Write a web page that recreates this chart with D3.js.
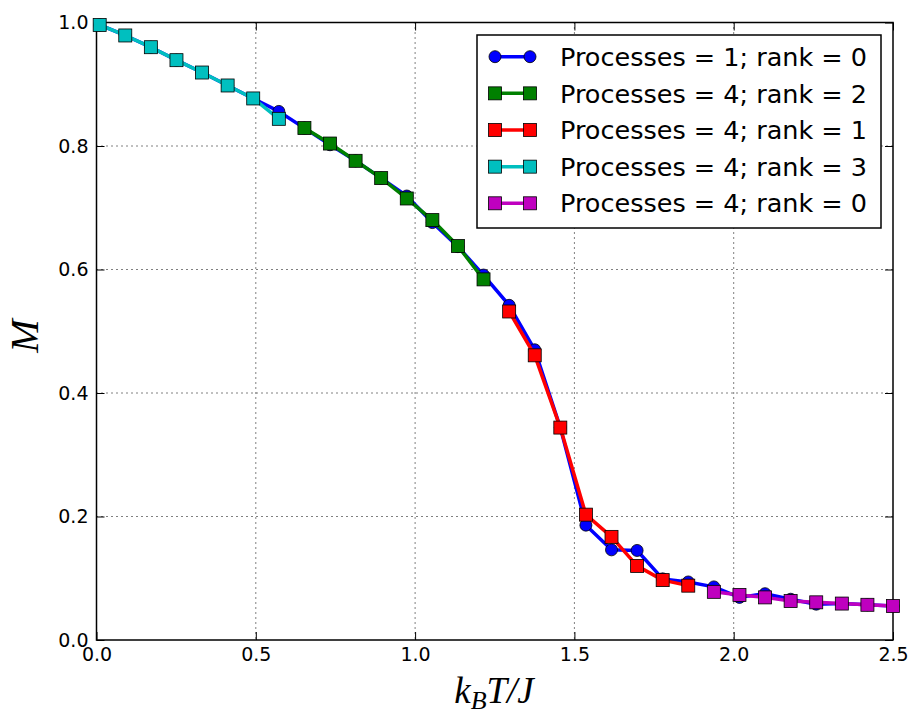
<!DOCTYPE html>
<html><head><meta charset="utf-8">
<script src="https://cdn.jsdelivr.net/npm/d3@7"></script>
<style>body{margin:0;background:#fff}</style>
</head><body>
<svg id="c" width="910" height="715"></svg>
<script>
// temperatures: 32 evenly spaced points 0.01..2.5
const temps = [0.0100,0.0903,0.1706,0.2510,0.3313,0.4116,0.4919,0.5723,0.6526,0.7329,0.8132,0.8935,0.9739,1.0542,1.1345,1.2148,1.2952,1.3755,1.4558,1.5361,1.6165,1.6968,1.7771,1.8574,1.9377,2.0181,2.0984,2.1787,2.2590,2.3394,2.4197,2.5000];
const mSerial = [0.996,0.979,0.960,0.939,0.919,0.898,0.877,0.856,0.829,0.802,0.776,0.748,0.719,0.676,0.637,0.591,0.542,0.470,0.344,0.186,0.146,0.145,0.099,0.094,0.086,0.069,0.075,0.066,0.058,0.059,0.057,0.055];
const mRank3 = [0.996,0.979,0.960,0.939,0.919,0.898,0.877,0.844];
const mRank2 = [0.829,0.804,0.776,0.748,0.715,0.680,0.638,0.584];
const mRank1 = [0.532,0.461,0.344,0.203,0.167,0.120,0.097,0.088];
const mRank0 = [0.078,0.073,0.069,0.063,0.061,0.059,0.057,0.055];
const seriesLabels = ["Processes = 1; rank = 0","Processes = 4; rank = 2","Processes = 4; rank = 1","Processes = 4; rank = 3","Processes = 4; rank = 0"];
const xTicks = [0.0,0.5,1.0,1.5,2.0,2.5];
const yTicks = [0.0,0.2,0.4,0.6,0.8,1.0];

const series = [
  {label: seriesLabels[0], color:"#0000ff", marker:"circle", x: temps, y: mSerial},
  {label: seriesLabels[1], color:"#008000", marker:"square", x: temps.slice(8,16), y: mRank2},
  {label: seriesLabels[2], color:"#ff0000", marker:"square", x: temps.slice(16,24), y: mRank1},
  {label: seriesLabels[3], color:"#00bfbf", marker:"square", x: temps.slice(0,8), y: mRank3},
  {label: seriesLabels[4], color:"#bf00bf", marker:"square", x: temps.slice(24,32), y: mRank0}
];

const svg = d3.select("#c");
const L=96.5, R=893, T=22.5, B=640;
const x = d3.scaleLinear().domain([0,2.5]).range([L,R]);
const y = d3.scaleLinear().domain([0,1]).range([B,T]);

// grid
const g = svg.append("g");
g.selectAll("line.gx").data(xTicks.slice(1,-1)).enter().append("line")
  .attr("x1",d=>x(d)).attr("x2",d=>x(d)).attr("y1",T).attr("y2",B)
  .attr("stroke","#000").attr("stroke-width",1).attr("stroke-dasharray","1,4");
g.selectAll("line.gy").data(yTicks.slice(1,-1)).enter().append("line")
  .attr("y1",d=>y(d)).attr("y2",d=>y(d)).attr("x1",L).attr("x2",R)
  .attr("stroke","#000").attr("stroke-width",1).attr("stroke-dasharray","1,4");

// axes
const fmt = d3.format(".1f");
const axB = svg.append("g").attr("transform",`translate(0,${B})`)
  .call(d3.axisBottom(x).tickValues(xTicks).tickFormat(fmt).tickSizeInner(-8).tickSizeOuter(0).tickPadding(8));
const axT = svg.append("g").attr("transform",`translate(0,${T})`)
  .call(d3.axisTop(x).tickValues(xTicks).tickFormat("").tickSizeInner(-8).tickSizeOuter(0));
const axL = svg.append("g").attr("transform",`translate(${L},0)`)
  .call(d3.axisLeft(y).tickValues(yTicks).tickFormat(fmt).tickSizeInner(-8).tickSizeOuter(0).tickPadding(8));
const axR = svg.append("g").attr("transform",`translate(${R},0)`)
  .call(d3.axisRight(y).tickValues(yTicks).tickFormat("").tickSizeInner(-8).tickSizeOuter(0));
[axB,axT,axL,axR].forEach(a=>{
  a.selectAll(".domain").remove();
  a.selectAll("line").attr("stroke","#000").attr("stroke-width",1);
  a.selectAll("text").attr("font-family","DejaVu Sans").attr("font-size",19).attr("fill","#000");
});
svg.append("rect").attr("x",L).attr("y",T).attr("width",R-L).attr("height",B-T)
  .attr("fill","none").attr("stroke","#000").attr("stroke-width",1.5);

// lines & markers
const plot = svg.append("g");
function drawMarker(sel, s, cx, cy){
  if(s.marker==="circle"){
    sel.append("circle").attr("cx",cx).attr("cy",cy).attr("r",6)
      .attr("fill",s.color).attr("stroke","#000").attr("stroke-width",0.8);
  } else {
    sel.append("rect").attr("x",cx-6.5).attr("y",cy-6.5).attr("width",13).attr("height",13)
      .attr("fill",s.color).attr("stroke","#000").attr("stroke-width",0.8);
  }
}
series.forEach(s=>{
  const pts = s.x.map((t,i)=>[x(t),y(s.y[i])]);
  const gs = plot.append("g");
  gs.append("path").attr("d",d3.line()(pts)).attr("fill","none")
    .attr("stroke",s.color).attr("stroke-width",3.5).attr("stroke-linejoin","round");
  pts.forEach(p=>drawMarker(gs,s,p[0],p[1]));
});

// legend
const lg = svg.append("g");
lg.append("rect").attr("x",477).attr("y",35).attr("width",404).attr("height",193)
  .attr("fill","#fff").attr("stroke","#000").attr("stroke-width",1.5);
series.forEach((s,i)=>{
  const yy = 56.7 + i*36.65;
  lg.append("line").attr("x1",495).attr("x2",530).attr("y1",yy).attr("y2",yy)
    .attr("stroke",s.color).attr("stroke-width",3.5);
  drawMarker(lg,s,495,yy); drawMarker(lg,s,530,yy);
  lg.append("text").attr("x",560).attr("y",yy).attr("dy","0.36em")
    .attr("font-family","DejaVu Sans").attr("font-size",25.5).attr("fill","#000").text(s.label);
});

// axis labels
svg.append("text").attr("transform","translate(38,336) rotate(-90)").attr("text-anchor","middle")
  .attr("font-family","Liberation Serif").attr("font-style","italic").attr("font-size",40).text("M");
const xl = svg.append("text").attr("x",494).attr("y",703).attr("text-anchor","middle")
  .attr("font-family","Liberation Serif").attr("font-style","italic").attr("font-size",37);
xl.append("tspan").text("k");
xl.append("tspan").attr("font-size",26).attr("dy",6).text("B");
xl.append("tspan").attr("dy",-6).text("T/J");
</script>
</body></html>
